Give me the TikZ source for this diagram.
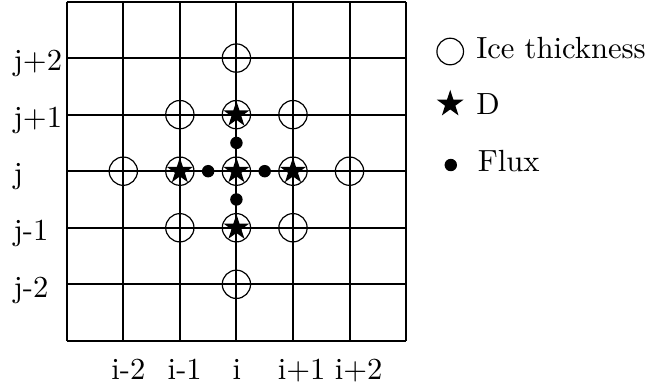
\documentclass[tikz,border=0pt]{standalone}
\usetikzlibrary{shapes.geometric}
\begin{document}
\begin{tikzpicture}[
  font=\fontsize{10}{12}\selectfont,
  gridline/.style={line width=1pt},
  icecirc/.style={circle,draw,line width=0.6pt,minimum size=0.5cm,inner sep=0},
  dstar/.style={star,star points=5,star point ratio=2.6,fill=black,inner sep=0,minimum size=0.48cm},
  fluxdot/.style={circle,fill=black,inner sep=0,minimum size=0.22cm},
  lbl/.style={inner sep=0,anchor=base west,scale=1.54,transform shape}
]
\useasboundingbox (-1.18,-0.834) rectangle (10.33,6.027);
\draw[gridline] (0,0) grid (6,6);
% ice thickness circles
\foreach \x/\y in {3/5,3/1,2/4,3/4,4/4,2/2,3/2,4/2,1/3,2/3,3/3,4/3,5/3}
  \node[icecirc] (c-\x-\y) at (\x,\y) {};
% D stars
\foreach \x/\y in {3/3,2/3,4/3,3/4,3/2}
  \node[dstar] (s-\x-\y) at (\x,\y) {};
% flux dots
\node[fluxdot] (f-w) at (2.5,3) {};
\node[fluxdot] (f-e) at (3.5,3) {};
\node[fluxdot] (f-n) at (3,3.5) {};
\node[fluxdot] (f-s) at (3,2.5) {};
% row labels
\node[lbl] (lj2) at (-0.95,4.775) {j+2};
\node[lbl] (lj1) at (-0.95,3.775) {j+1};
\node[lbl] (lj0) at (-0.95,2.775) {j};
\node[lbl] (ljm1) at (-0.95,1.775) {j-1};
\node[lbl] (ljm2) at (-0.95,0.775) {j-2};
% column labels
\node[lbl] (lim2) at (0.78,-0.69) {i-2};
\node[lbl] (lim1) at (1.775,-0.69) {i-1};
\node[lbl] (li0) at (2.92,-0.69) {i};
\node[lbl] (li1) at (3.72,-0.69) {i+1};
\node[lbl] (li2) at (4.73,-0.69) {i+2};
% legend
\node[icecirc,minimum size=0.47cm] (leg-c) at (6.78,5.116) {};
\node[lbl] (leg-ct) at (7.23,5.0) {Ice thickness};
\node[dstar,minimum size=0.5cm] (leg-s) at (6.78,4.188) {};
\node[lbl] (leg-st) at (7.23,4.0) {D};
\node[fluxdot] (leg-f) at (6.79,3.109) {};
\node[lbl] (leg-ft) at (7.26,3.0) {Flux};
\end{tikzpicture}
\end{document}
